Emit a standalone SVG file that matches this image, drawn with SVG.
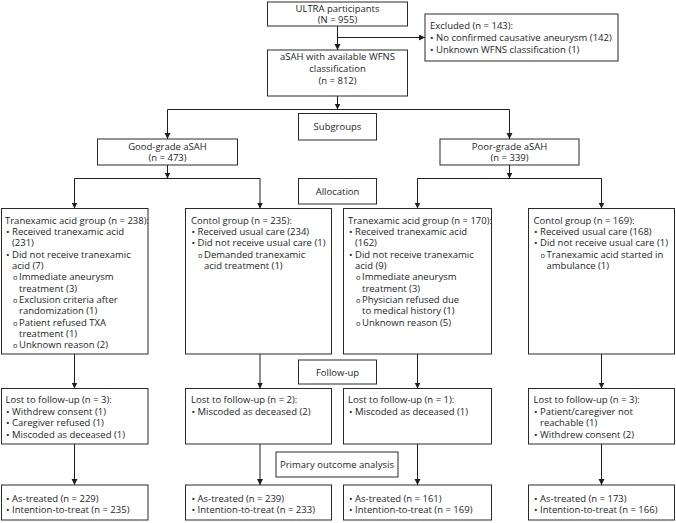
<svg xmlns="http://www.w3.org/2000/svg" width="676" height="523" viewBox="0 0 676 523">
<style>
text{font-family:"Open Sans","Noto Sans","DejaVu Sans",sans-serif;font-size:9.5px;fill:#1e1e1e}
.c{text-anchor:middle}
.box{fill:#fff;stroke:#2a2a2a;stroke-width:1}
.ln{fill:none;stroke:#1e1e1e;stroke-width:1}
.o{font-size:7.5px}
</style>
<defs>
<marker id="ah" markerUnits="userSpaceOnUse" markerWidth="7" markerHeight="7" refX="6" refY="3" orient="auto">
<path d="M0,0 L6,3 L0,6 z" fill="#1e1e1e"/>
</marker>
</defs>
<rect width="676" height="523" fill="#fff"/>
<g id="connectors">
<path class="ln" d="M337.5,26 V50" marker-end="url(#ah)"/>
<path class="ln" d="M337.5,37.5 H425" marker-end="url(#ah)"/>
<path class="ln" d="M337.5,96 V109.5" marker-end="url(#ah)"/>
<path class="ln" d="M167.5,109.5 H509.5"/>
<path class="ln" d="M167.5,109.5 V139" marker-end="url(#ah)"/>
<path class="ln" d="M509.5,109.5 V139" marker-end="url(#ah)"/>
<path class="ln" d="M167.5,165 V178.5" marker-end="url(#ah)"/>
<path class="ln" d="M74.5,178.5 H260"/>
<path class="ln" d="M74.5,178.5 V208.5" marker-end="url(#ah)"/>
<path class="ln" d="M260,178.5 V208.5" marker-end="url(#ah)"/>
<path class="ln" d="M509.5,165 V178.5" marker-end="url(#ah)"/>
<path class="ln" d="M417.5,178.5 H601.5"/>
<path class="ln" d="M417.5,178.5 V208.5" marker-end="url(#ah)"/>
<path class="ln" d="M601.5,178.5 V208.5" marker-end="url(#ah)"/>
<path class="ln" d="M74.5,354 V388.5" marker-end="url(#ah)"/>
<path class="ln" d="M260,354 V388.5" marker-end="url(#ah)"/>
<path class="ln" d="M417.5,354 V388.5" marker-end="url(#ah)"/>
<path class="ln" d="M601.5,354 V388.5" marker-end="url(#ah)"/>
<path class="ln" d="M74.5,444 V485" marker-end="url(#ah)"/>
<path class="ln" d="M260,444 V485" marker-end="url(#ah)"/>
<path class="ln" d="M417.5,444 V485" marker-end="url(#ah)"/>
<path class="ln" d="M601.5,444 V485" marker-end="url(#ah)"/>
</g>
<g id="ultra">
<rect class="box" x="267.5" y="2" width="140" height="24"/>
<text class="c"><tspan x="337.5" y="11.5">ULTRA participants</tspan><tspan x="337.5" y="22.8">(N = 955)</tspan></text>
</g>
<g id="excluded">
<rect class="box" x="425" y="14" width="193" height="47"/>
<text><tspan x="430" y="28.5">Excluded (n = 143):</tspan><tspan x="430" y="40.5">• No confirmed causative aneurysm (142)</tspan><tspan x="430" y="52.5">• Unknown WFNS classification (1)</tspan></text>
</g>
<g id="asah">
<rect class="box" x="267.5" y="50" width="140" height="46"/>
<text class="c"><tspan x="337.5" y="60">aSAH with available WFNS</tspan><tspan x="337.5" y="72">classification</tspan><tspan x="337.5" y="84">(n = 812)</tspan></text>
</g>
<g id="subgroups">
<rect class="box" x="298.5" y="113.5" width="78" height="26.5"/>
<text class="c" x="337.5" y="130">Subgroups</text>
</g>
<g id="good">
<rect class="box" x="97.5" y="139" width="140" height="26"/>
<text class="c"><tspan x="167.5" y="149.5">Good-grade aSAH</tspan><tspan x="167.5" y="161">(n = 473)</tspan></text>
</g>
<g id="poor">
<rect class="box" x="440" y="139" width="139" height="26"/>
<text class="c"><tspan x="509.5" y="149.5">Poor-grade aSAH</tspan><tspan x="509.5" y="161">(n = 339)</tspan></text>
</g>
<g id="allocation">
<rect class="box" x="298.5" y="178.5" width="78" height="25.5"/>
<text class="c" x="337.5" y="194.5">Allocation</text>
</g>
<g id="txa-good">
<rect class="box" x="1.5" y="208.5" width="146.5" height="145.5"/>
<text><tspan x="5" y="223.5">Tranexamic acid group (n = 238):</tspan><tspan x="6" y="234.85">• Received tranexamic acid</tspan><tspan x="12" y="246.2">(231)</tspan><tspan x="6" y="257.55">• Did not receive tranexamic</tspan><tspan x="12" y="268.9">acid (7)</tspan><tspan class="o" x="13" y="280.25">o</tspan><tspan x="19" y="280.25">Immediate aneurysm</tspan><tspan x="19" y="291.6">treatment (3)</tspan><tspan class="o" x="13" y="302.95">o</tspan><tspan x="19" y="302.95">Exclusion criteria after</tspan><tspan x="19" y="314.3">randomization (1)</tspan><tspan class="o" x="13" y="325.65">o</tspan><tspan x="19" y="325.65">Patient refused TXA</tspan><tspan x="19" y="337">treatment (1)</tspan><tspan class="o" x="13" y="348.35">o</tspan><tspan x="19" y="348.35">Unknown reason (2)</tspan></text>
</g>
<g id="ctl-good">
<rect class="box" x="185.5" y="208.5" width="146" height="145.5"/>
<text><tspan x="191" y="223.5">Contol group (n = 235):</tspan><tspan x="191.5" y="234.85">• Received usual care (234)</tspan><tspan x="191.5" y="246.2">• Did not receive usual care (1)</tspan><tspan class="o" x="198" y="257.55">o</tspan><tspan x="204" y="257.55">Demanded tranexamic</tspan><tspan x="204" y="268.9">acid treatment (1)</tspan></text>
</g>
<g id="txa-poor">
<rect class="box" x="343.5" y="208.5" width="148" height="145.5"/>
<text><tspan x="348" y="223.5">Tranexamic acid group (n = 170):</tspan><tspan x="349" y="234.85">• Received tranexamic acid</tspan><tspan x="355" y="246.2">(162)</tspan><tspan x="349" y="257.55">• Did not receive tranexamic</tspan><tspan x="355" y="268.9">acid (9)</tspan><tspan class="o" x="356" y="280.25">o</tspan><tspan x="362" y="280.25">Immediate aneurysm</tspan><tspan x="362" y="291.6">treatment (3)</tspan><tspan class="o" x="356" y="302.95">o</tspan><tspan x="362" y="302.95">Physician refused due</tspan><tspan x="362" y="314.3">to medical history (1)</tspan><tspan class="o" x="356" y="325.65">o</tspan><tspan x="362" y="325.65">Unknown reason (5)</tspan></text>
</g>
<g id="ctl-poor">
<rect class="box" x="528.5" y="208.5" width="146" height="145.5"/>
<text><tspan x="533.5" y="223.5">Contol group (n = 169):</tspan><tspan x="534" y="234.85">• Received usual care (168)</tspan><tspan x="534" y="246.2">• Did not receive usual care (1)</tspan><tspan class="o" x="540.5" y="257.55">o</tspan><tspan x="546.5" y="257.55">Tranexamic acid started in</tspan><tspan x="546.5" y="268.9">ambulance (1)</tspan></text>
</g>
<g id="followup">
<rect class="box" x="298.5" y="360" width="78" height="24"/>
<text class="c" x="337.5" y="375.5">Follow-up</text>
</g>
<g id="lost-1">
<rect class="box" x="1.5" y="388.5" width="146.5" height="55.5"/>
<text><tspan x="5.5" y="403.3">Lost to follow-up (n = 3):</tspan><tspan x="6" y="414.8">• Withdrew consent (1)</tspan><tspan x="6" y="426.3">• Caregiver refused (1)</tspan><tspan x="6" y="437.8">• Miscoded as deceased (1)</tspan></text>
</g>
<g id="lost-2">
<rect class="box" x="185.5" y="388.5" width="146" height="55.5"/>
<text><tspan x="191" y="403.3">Lost to follow-up (n = 2):</tspan><tspan x="191.5" y="414.8">• Miscoded as deceased (2)</tspan></text>
</g>
<g id="lost-3">
<rect class="box" x="343.5" y="388.5" width="148" height="55.5"/>
<text><tspan x="348" y="403.3">Lost to follow-up (n = 1):</tspan><tspan x="349" y="414.8">• Miscoded as deceased (1)</tspan></text>
</g>
<g id="lost-4">
<rect class="box" x="528.5" y="388.5" width="146" height="55.5"/>
<text><tspan x="533.5" y="403.3">Lost to follow-up (n = 3):</tspan><tspan x="534" y="414.8">• Patient/caregiver not</tspan><tspan x="540" y="426.3">reachable (1)</tspan><tspan x="534" y="437.8">• Withdrew consent (2)</tspan></text>
</g>
<g id="primary">
<rect class="box" x="276" y="452" width="122" height="25"/>
<text class="c" x="337" y="468">Primary outcome analysis</text>
</g>
<g id="res-1">
<rect class="box" x="1.5" y="485" width="146.5" height="35"/>
<text><tspan x="6" y="501.5">• As-treated (n = 229)</tspan><tspan x="6" y="512.8">• Intention-to-treat (n = 235)</tspan></text>
</g>
<g id="res-2">
<rect class="box" x="185.5" y="485" width="146" height="35"/>
<text><tspan x="191.5" y="501.5">• As-treated (n = 239)</tspan><tspan x="191.5" y="512.8">• Intention-to-treat (n = 233)</tspan></text>
</g>
<g id="res-3">
<rect class="box" x="343.5" y="485" width="148" height="35"/>
<text><tspan x="349" y="501.5">• As-treated (n = 161)</tspan><tspan x="349" y="512.8">• Intention-to-treat (n = 169)</tspan></text>
</g>
<g id="res-4">
<rect class="box" x="528.5" y="485" width="146" height="35"/>
<text><tspan x="534" y="501.5">• As-treated (n = 173)</tspan><tspan x="534" y="512.8">• Intention-to-treat (n = 166)</tspan></text>
</g>
</svg>
